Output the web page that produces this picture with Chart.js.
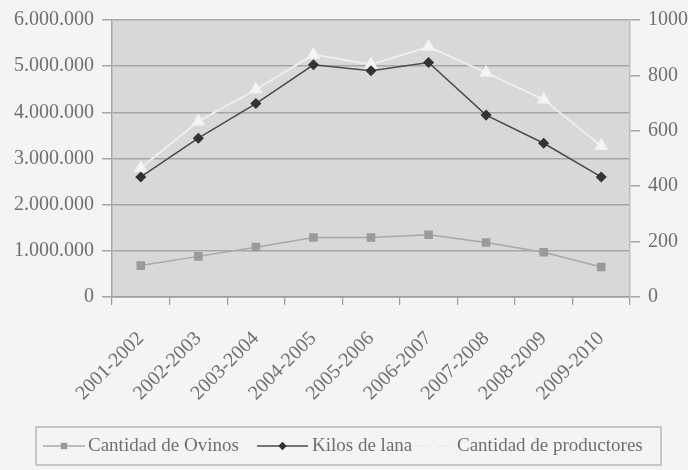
<!DOCTYPE html>
<html>
<head>
<meta charset="utf-8">
<script src="https://cdn.jsdelivr.net/npm/chart.js@4.4.0/dist/chart.umd.min.js"></script>
<style>
    body { margin: 0; background: #f4f4f4; }
    #wrap { width: 688px; height: 470px; }
</style>
</head>
<body>
<div id="wrap"><canvas id="chart" width="688" height="470"></canvas></div>
<script>
// Data
const temporadas = ['2001-2002', '2002-2003', '2003-2004', '2004-2005', '2005-2006',
    '2006-2007', '2007-2008', '2008-2009', '2009-2010'];
const ovinos = [680000, 880000, 1080000, 1290000, 1290000, 1350000, 1180000, 970000, 650000];
const kilosLana = [2600000, 3440000, 4190000, 5030000, 4900000, 5080000, 3940000, 3330000, 2600000];
const productores = [466, 634, 749, 875, 839, 903, 810, 713, 545];
const leftTicks = [0, 1000000, 2000000, 3000000, 4000000, 5000000, 6000000];
const rightTicks = [0, 200, 400, 600, 800, 1000];

const serif = "'Liberation Serif', 'DejaVu Serif', serif";
const textColor = '#6f6f6f';

function withDots(v) {
    return String(v).replace(/\B(?=(\d{3})+(?!\d))/g, '.');
}

// plot background + legend drawn like the original
const excelLook = {
    id: 'excelLook',
    beforeDraw(chart) {
        const { ctx, chartArea } = chart;
        ctx.save();
        ctx.fillStyle = '#d8d8d8';
        ctx.fillRect(chartArea.left, chartArea.top, chartArea.right - chartArea.left, chartArea.bottom - chartArea.top);
        ctx.restore();
    },
    afterDraw(chart) {
        const ctx = chart.ctx;
        ctx.save();
        // legend frame
        ctx.strokeStyle = '#b8b8b8';
        ctx.lineWidth = 1.5;
        ctx.strokeRect(36, 427, 625, 38);

        const items = [
            { x: 43, w: 42, textX: 88 },
            { x: 257, w: 51, textX: 312 },
            { x: 414, w: 38, textX: 457 }
        ];
        ctx.font = '19px ' + serif;
        ctx.textBaseline = 'middle';
        chart.data.datasets.forEach((ds, i) => {
            const it = items[i];
            const y = 446;
            ctx.strokeStyle = ds.borderColor;
            ctx.lineWidth = ds.borderWidth;
            ctx.beginPath();
            ctx.moveTo(it.x, y);
            ctx.lineTo(it.x + it.w, y);
            ctx.stroke();
            ctx.fillStyle = ds.pointBackgroundColor;
            ctx.strokeStyle = ds.pointBorderColor;
            Chart.helpers.drawPoint(ctx, {
                pointStyle: ds.pointStyle,
                radius: ds.pointRadius * 0.7,
                borderWidth: 1
            }, it.x + it.w / 2, y);
            ctx.fillStyle = textColor;
            ctx.fillText(ds.label, it.textX, y);
        });
        ctx.restore();
    }
};

new Chart(document.getElementById('chart'), {
    type: 'line',
    data: {
        labels: temporadas,
        datasets: [
            {
                label: 'Cantidad de Ovinos',
                data: ovinos,
                yAxisID: 'y',
                borderColor: '#a8a8a8',
                backgroundColor: '#9a9a9a',
                borderWidth: 1.5,
                pointStyle: 'rect',
                pointRadius: 5,
                pointBorderColor: '#9a9a9a',
                pointBackgroundColor: '#9a9a9a',
                tension: 0
            },
            {
                label: 'Kilos de lana',
                data: kilosLana,
                yAxisID: 'y',
                borderColor: '#4a4a4a',
                backgroundColor: '#333333',
                borderWidth: 1.5,
                pointStyle: 'rectRot',
                pointRadius: 4.5,
                pointBorderColor: '#333333',
                pointBackgroundColor: '#333333',
                tension: 0
            },
            {
                label: 'Cantidad de productores',
                data: productores,
                yAxisID: 'y1',
                borderColor: '#eeeeee',
                backgroundColor: '#f7f7f7',
                borderWidth: 2,
                pointStyle: 'triangle',
                pointRadius: 6,
                pointBorderColor: '#f2f2f2',
                pointBackgroundColor: '#f6f6f6',
                tension: 0
            }
        ]
    },
    options: {
        responsive: false,
        animation: false,
        layout: { padding: { top: 17, bottom: 60, left: 0, right: 0 } },
        plugins: {
            legend: { display: false },
            tooltip: { enabled: false }
        },
        scales: {
            x: {
                offset: true,
                grid: {
                    offset: true,
                    drawOnChartArea: false,
                    tickLength: 8,
                    color: '#9c9c9c',
                    lineWidth: 1.2
                },
                border: { color: '#9c9c9c', width: 1.5 },
                ticks: {
                    color: textColor,
                    font: { family: serif, size: 20 },
                    minRotation: 45,
                    maxRotation: 45,
                    padding: 22
                },
                afterFit(scale) { scale.height = 113; }
            },
            y: {
                position: 'left',
                min: 0,
                max: 6000000,
                afterBuildTicks(scale) { scale.ticks = leftTicks.map(v => ({ value: v })); },
                grid: { color: '#a6a6a6', lineWidth: 1.5, tickLength: 10 },
                border: { color: '#a6a6a6', width: 1.5 },
                ticks: {
                    color: textColor,
                    font: { family: serif, size: 20 },
                    padding: 8,
                    callback: v => withDots(v)
                },
                afterFit(scale) { scale.width = 112; }
            },
            y1: {
                position: 'right',
                min: 0,
                max: 1000,
                afterBuildTicks(scale) { scale.ticks = rightTicks.map(v => ({ value: v })); },
                grid: { drawOnChartArea: false, color: '#a6a6a6', lineWidth: 1.5, tickLength: 10 },
                border: { color: '#bdbdbd', width: 1.5 },
                ticks: {
                    color: textColor,
                    font: { family: serif, size: 20 },
                    padding: 8,
                    callback: v => String(v)
                },
                afterFit(scale) { scale.width = 58; }
            }
        }
    },
    plugins: [excelLook]
});
</script>
</body>
</html>
